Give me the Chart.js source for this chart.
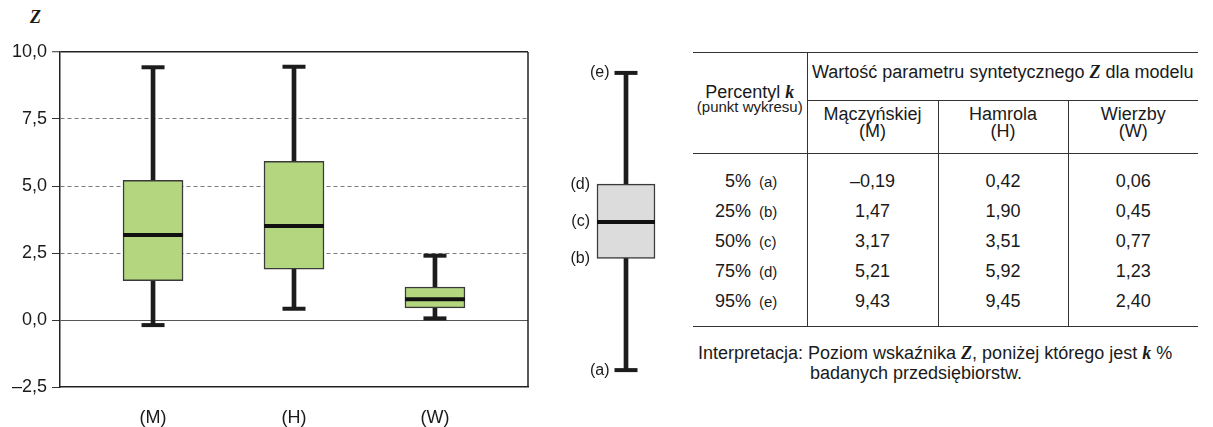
<!DOCTYPE html>
<html lang="pl">
<head>
<meta charset="utf-8">
<title>Percentyle parametru syntetycznego Z</title>
<script src="https://cdn.jsdelivr.net/npm/chart.js@4.4.1/dist/chart.umd.min.js"></script>
<style>
  html, body { margin: 0; padding: 0; background: #fff; }
  body { width: 1213px; height: 427px; position: relative; overflow: hidden;
         font-family: "Liberation Sans", Arial, sans-serif; color: #1a1a1a; }
  #main { position: absolute; left: 0; top: 0; }
  #schema { position: absolute; left: 560px; top: 0; }
  .zt { position: absolute; left: 30px; top: 7px; font: italic bold 18px "Liberation Serif", serif; }
  .v { font-family: "Liberation Serif", serif; font-style: italic; font-weight: bold; }
  table { position: absolute; left: 693px; top: 52px; border-collapse: collapse; font-size: 18px;
          table-layout: fixed; width: 505px; }
  th, td { padding: 0; font-weight: normal; text-align: center; white-space: nowrap; }
  thead tr.h1 th { border-top: 1.5px solid #333; }
  th.pk { vertical-align: top; padding-top: 30px; line-height: 18px; border-bottom: 1px solid #333; }
  th.pk small { display: block; font-size: 15px; line-height: 12px; }
  th.tt { border-left: 1px solid #333; border-bottom: 1px solid #333; line-height: 20px;
          padding-top: 9px; padding-bottom: 18px; }
  tr.h2 th { line-height: 17px; padding-top: 5px; padding-bottom: 13px; border-bottom: 1px solid #333; }
  tr.h2 th + th, td + td, tr.h2 th:first-child { border-left: 1px solid #333; }
  td { line-height: 30px; height: 30px; }
  td span { line-height: 1; }
  tbody tr:first-child td { padding-top: 12px; }
  tbody tr:last-child td { padding-bottom: 10px; border-bottom: 1.5px solid #333; }
  td.pc { text-align: left; }
  td.pc .p { display: inline-block; width: 58px; text-align: right; }
  td.pc .l { font-size: 15px; margin-left: 8px; }
  .interp { position: absolute; left: 698px; top: 343px; font-size: 18px; line-height: 20px; white-space: nowrap; }
  .interp .ind { padding-left: 112px; }
</style>
</head>
<body>
<div class="zt">Z</div>
<canvas id="main" width="540" height="427"></canvas>
<canvas id="schema" width="132" height="427"></canvas>

<table>
  <colgroup><col style="width:114px"><col style="width:131px"><col style="width:130px"><col style="width:130px"></colgroup>
  <thead>
    <tr class="h1">
      <th rowspan="2" class="pk">Percentyl <span class="v">k</span><small>(punkt wykresu)</small></th>
      <th colspan="3" class="tt">Wartość parametru syntetycznego <span class="v">Z</span> dla modelu</th>
    </tr>
    <tr class="h2">
      <th>Mączyńskiej<br>(M)</th><th>Hamrola<br>(H)</th><th>Wierzby<br>(W)</th>
    </tr>
  </thead>
  <tbody id="rows"></tbody>
</table>

<div class="interp">Interpretacja: Poziom wskaźnika <span class="v">Z</span>, poniżej którego jest <span class="v">k</span> %<br><span class="ind">badanych przedsiębiorstw.</span></div>

<script>
// Models (x axis categories)
const models = ['(M)', '(H)', '(W)'];
// Percentile rows and the schematic point letters
const percentiles = ['5%', '25%', '50%', '75%', '95%'];
const pointLetters = ['(a)', '(b)', '(c)', '(d)', '(e)'];
// Z values per percentile (5, 25, 50, 75, 95) for each model
const p05 = [-0.19, 0.42, 0.06];
const p25 = [1.47, 1.90, 0.45];
const p50 = [3.17, 3.51, 0.77];
const p75 = [5.21, 5.92, 1.23];
const p95 = [9.43, 9.45, 2.40];
// Schematic box explaining the points (a)-(e)
const schemaValues = [-1.87, 2.30, 3.66, 5.07, 9.22];
// Y axis ticks
const yTicks = [-2.5, 0, 2.5, 5, 7.5, 10];

const fmt = v => (v < 0 ? '–' : '') + Math.abs(v).toFixed(2).replace('.', ',');
const fmtTick = v => (v < 0 ? '–' : '') + Math.abs(v).toFixed(1).replace('.', ',');

// Table body
const columns = [p05, p25, p50, p75, p95];
const tbody = document.getElementById('rows');
percentiles.forEach((p, r) => {
  const tr = document.createElement('tr');
  let html = `<td class="pc"><span class="p">${p}</span><span class="l">${pointLetters[r]}</span></td>`;
  models.forEach((m, i) => { html += `<td>${fmt(columns[r][i])}</td>`; });
  tr.innerHTML = html;
  tbody.appendChild(tr);
});

Chart.defaults.font.family = '"Liberation Sans", Arial, sans-serif';
Chart.defaults.color = '#1a1a1a';

const BOX_FILL = '#b3d67e';
const INK = '#1c1c1c';
const xs = models.map((m, i) => i + 1);

function boxDatasets(lo, q1, med, q3, hi, x, fill, width) {
  return [
    { type: 'bar', data: x.map((v, i) => ({ x: v, y: [q3[i], hi[i]] })), backgroundColor: INK,
      borderWidth: 0, barThickness: 4, grouped: false, order: 3 },
    { type: 'bar', data: x.map((v, i) => ({ x: v, y: [lo[i], q1[i]] })), backgroundColor: INK,
      borderWidth: 0, barThickness: 4, grouped: false, order: 3 },
    { type: 'bar', data: x.map((v, i) => ({ x: v, y: [q1[i], q3[i]] })), backgroundColor: fill,
      borderColor: '#3a3a3a', borderWidth: 1.5, borderSkipped: false, barThickness: width,
      grouped: false, order: 2 },
    { type: 'scatter', data: x.flatMap((v, i) => [{ x: v, y: lo[i] }, { x: v, y: hi[i] }]),
      pointStyle: 'line', pointRadius: 11.5, borderColor: INK, borderWidth: 4, order: 1 },
    { type: 'scatter', data: x.map((v, i) => ({ x: v, y: med[i] })),
      pointStyle: 'line', pointRadius: width / 2, borderColor: '#111', borderWidth: 4, order: 0 }
  ];
}

const rightEdge = {
  id: 'rightEdge',
  afterDraw(chart) {
    const { ctx, chartArea: a } = chart;
    ctx.save();
    ctx.strokeStyle = '#222';
    ctx.lineWidth = 1.5;
    ctx.beginPath();
    ctx.moveTo(a.right, a.top);
    ctx.lineTo(a.right, a.bottom);
    ctx.stroke();
    ctx.restore();
  }
};

new Chart(document.getElementById('main'), {
  type: 'bar',
  data: { datasets: boxDatasets(p05, p25, p50, p75, p95, xs, BOX_FILL, 60) },
  options: {
    responsive: false,
    animation: false,
    events: [],
    layout: { autoPadding: false, padding: { top: 52, right: 12, left: 0, bottom: 0 } },
    plugins: { legend: { display: false }, tooltip: { enabled: false } },
    scales: {
      x: {
        type: 'linear', min: 0.34, max: 3.66, offset: false,
        afterBuildTicks: s => { s.ticks = xs.map(v => ({ value: v })); },
        afterFit: s => { s.height = 40; s.paddingLeft = 0; s.paddingRight = 0; },
        grid: { display: false },
        border: { display: true, color: '#222', width: 1.5 },
        ticks: { font: { size: 18 }, padding: 12, color: '#1a1a1a',
                 callback: v => models[v - 1] }
      },
      y: {
        min: -2.5, max: 10,
        afterBuildTicks: s => { s.ticks = yTicks.map(v => ({ value: v })); },
        afterFit: s => { s.width = 60; },
        ticks: { font: { size: 18 }, padding: 5, color: '#1a1a1a', callback: v => fmtTick(v) },
        grid: {
          tickLength: 8, tickColor: '#333', tickWidth: 1,
          color: c => {
            const v = c.tick ? c.tick.value : null;
            if (v === 10) return '#222';
            if (v === 0) return '#555';
            if (v === -2.5) return 'rgba(0,0,0,0)';
            return '#7a7a7a';
          },
          lineWidth: c => (c.tick && c.tick.value === 10 ? 1.5 : 1)
        },
        border: {
          display: true, color: '#222', width: 1.5,
          dash: c => (c.tick && c.tick.value > 0 && c.tick.value < 10 ? [4, 3] : [])
        }
      }
    }
  },
  plugins: [rightEdge]
});

// Schematic box with the percentile points labelled (a)-(e)
const letterLabels = {
  id: 'letterLabels',
  afterDatasetsDraw(chart) {
    const { ctx, scales: { x, y } } = chart;
    const cx = x.getPixelForValue(1);
    ctx.save();
    ctx.font = '16px "Liberation Sans", Arial, sans-serif';
    ctx.fillStyle = '#1a1a1a';
    ctx.textAlign = 'right';
    ctx.textBaseline = 'middle';
    schemaValues.forEach((v, i) => {
      const onCap = i === 0 || i === schemaValues.length - 1;
      const px = onCap ? cx - 11.5 - 5 : cx - 29 - 7;
      ctx.fillText(pointLetters[i], px, y.getPixelForValue(v));
    });
    ctx.restore();
  }
};

const sv = schemaValues;
new Chart(document.getElementById('schema'), {
  type: 'bar',
  data: { datasets: boxDatasets([sv[0]], [sv[1]], [sv[2]], [sv[3]], [sv[4]], [1], '#dcdcdc', 58) },
  options: {
    responsive: false,
    animation: false,
    events: [],
    layout: { autoPadding: false, padding: { top: 52, bottom: 40, left: 0, right: 0 } },
    plugins: { legend: { display: false }, tooltip: { enabled: false } },
    scales: {
      x: { type: 'linear', min: 0, max: 2, display: false, offset: false },
      y: { min: -2.5, max: 10, display: false }
    }
  },
  plugins: [letterLabels]
});
</script>
</body>
</html>
